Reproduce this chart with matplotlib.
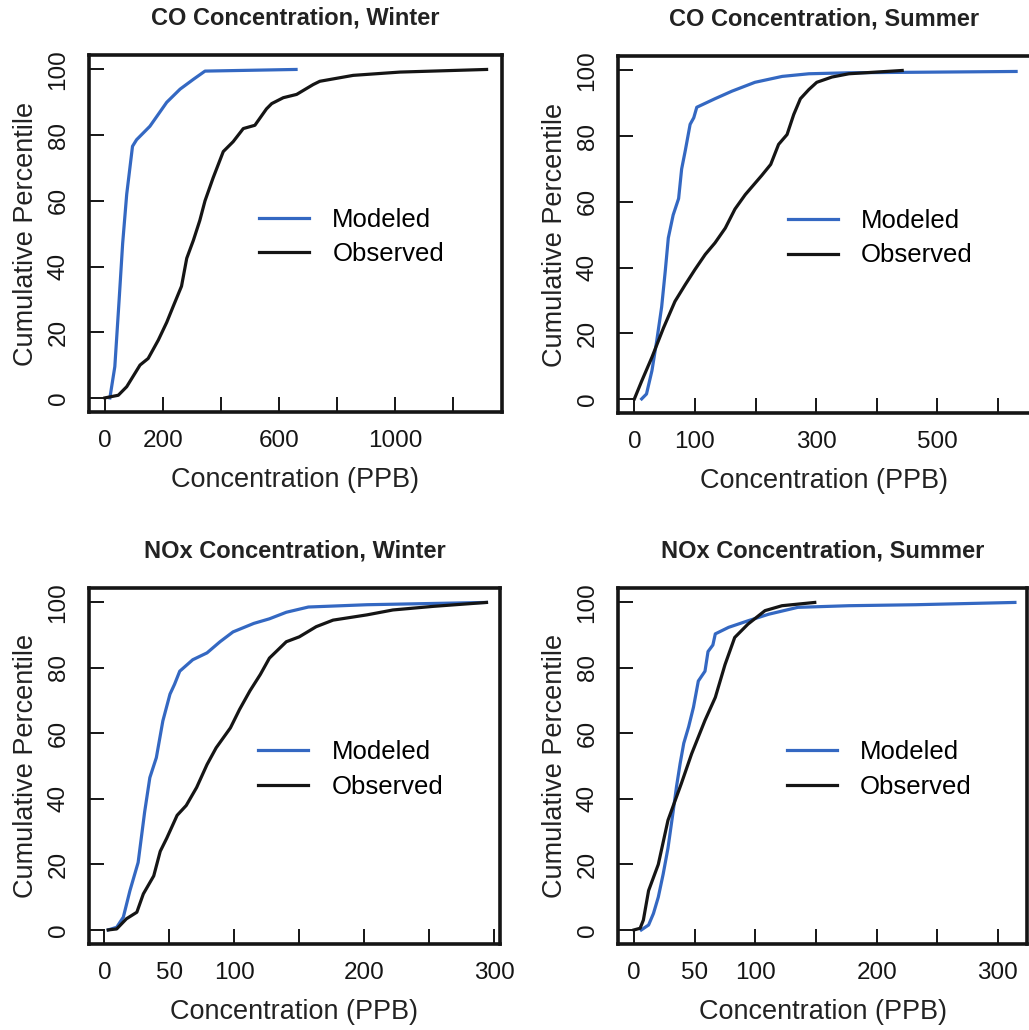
import matplotlib
matplotlib.use("Agg")
import matplotlib.pyplot as plt

plt.rcParams['font.family'] = ['Liberation Sans', 'DejaVu Sans']

BLUE = "#3468c2"
BLACK = "#151515"

# CO winter
co_w_mod_x = [17, 34, 49, 61, 75, 95, 109, 155, 213, 259, 305, 345, 659]
co_w_mod_y = [0, 9.5, 30, 47, 62, 76.6, 78.6, 82.7, 90, 94, 97, 99.5, 100]
co_w_obs_x = [0, 46, 75, 121, 149, 184, 213, 236, 264, 282, 305, 327, 345, 373,
              408, 442, 477, 517, 557, 575, 615, 661, 718, 741, 856, 1017, 1316]
co_w_obs_y = [0, 0.8, 3.4, 10, 12, 17.6, 23, 28, 34, 42.5, 48, 54, 60, 67,
              75, 78, 82, 83, 88, 89.6, 91.4, 92.4, 95.4, 96.4, 98.2, 99.2, 100]

# CO summer
co_s_mod_x = [12, 20, 29, 37, 45, 51, 56, 64, 73, 78, 84, 92, 98, 103, 133, 161,
              199, 244, 288, 354, 630]
co_s_mod_y = [0, 1.5, 8.6, 17.8, 28, 39, 49, 56, 61, 70, 75.6, 83.6, 85.6, 88.8,
              91.4, 93.7, 96.4, 98.2, 99, 99.3, 99.7]
co_s_obs_x = [0, 12, 29, 48, 67, 84, 100, 117, 133, 150, 166, 183, 210, 225, 238,
              252, 263, 274, 288, 301, 326, 354, 442]
co_s_obs_y = [0, 5.4, 12.7, 21.6, 29.7, 34.8, 39.4, 44, 47.5, 52, 57.8, 62.2, 68,
              71.4, 77.5, 80.5, 86.6, 91.4, 94.2, 96.4, 98, 99, 100]

# NOx winter
nox_w_mod_x = [3, 9.5, 14.6, 19.7, 26, 31, 35, 40, 45, 50.5, 54, 58, 68, 79, 89,
               99, 115, 127, 140, 157, 202, 294]
nox_w_mod_y = [0, 0.8, 3.9, 12, 20.6, 36, 46.5, 52.6, 63.8, 72, 75, 79, 82.5,
               84.6, 88, 91, 93.6, 95, 97, 98.6, 99.3, 100]
nox_w_obs_x = [3, 9.5, 17, 25, 30, 38, 43, 48, 56, 63, 71, 79, 86, 97, 104, 112,
               120, 127, 140, 150, 163, 176, 202, 222, 253, 294]
nox_w_obs_y = [0, 0.3, 3.4, 5.4, 11, 16.5, 24, 28, 35, 38, 43.5, 50.5, 55.6,
               61.7, 67.3, 73, 78, 83, 88, 89.5, 92.6, 94.6, 96.2, 97.7, 98.8, 100]

# NOx summer
nox_s_mod_x = [6, 12, 16, 20, 24, 28, 32, 35, 38, 41, 45, 49, 53, 58.5, 61, 65,
               67, 78, 94, 111, 135, 177, 232, 314]
nox_s_mod_y = [0, 1.5, 5, 10, 17, 25, 35.5, 43.7, 50.8, 57, 62, 68, 76, 79, 85,
               87, 90.4, 92.4, 94.4, 96.4, 98.5, 99, 99.3, 100]
nox_s_obs_x = [0, 5, 7.7, 12, 20, 28, 39, 47.5, 58.5, 67, 75, 83, 94, 108, 122, 149]
nox_s_obs_y = [0, 0.5, 3, 12, 20, 33.5, 44.7, 53.8, 64, 71, 81, 89.3, 93.4,
               97.5, 99, 100]

titles = ["CO Concentration, Winter", "CO Concentration, Summer",
          "NOx Concentration, Winter", "NOx Concentration, Summer"]

co_w_ticks = [0, 200, 400, 600, 800, 1000, 1200]
co_w_labels = ["0", "200", "", "600", "", "1000", ""]
co_s_ticks = [0, 100, 200, 300, 400, 500, 600]
co_s_labels = ["0", "100", "", "300", "", "500", ""]
nox_ticks = [0, 50, 100, 150, 200, 250, 300]
nox_labels = ["0", "50", "100", "", "200", "", "300"]
y_ticks = [0, 20, 40, 60, 80, 100]

fig = plt.figure(figsize=(10.29, 10.30), dpi=100)

panels = [
    ([0.0865, 0.600, 0.4013, 0.3466], (-55, 1369), co_w_ticks, co_w_labels,
     co_w_mod_x, co_w_mod_y, co_w_obs_x, co_w_obs_y),
    ([0.6006, 0.599, 0.4010, 0.3466], (-27, 654), co_s_ticks, co_s_labels,
     co_s_mod_x, co_s_mod_y, co_s_obs_x, co_s_obs_y),
    ([0.0865, 0.0835, 0.3994, 0.3456], (-11.8, 304.4), nox_ticks, nox_labels,
     nox_w_mod_x, nox_w_mod_y, nox_w_obs_x, nox_w_obs_y),
    ([0.6006, 0.0835, 0.3975, 0.3456], (-13.2, 324), nox_ticks, nox_labels,
     nox_s_mod_x, nox_s_mod_y, nox_s_obs_x, nox_s_obs_y),
]

for i, (pos, xlim, xt, xl, mx, my, ox, oy) in enumerate(panels):
    ax = fig.add_axes(pos)
    ax.plot(mx, my, color=BLUE, lw=2.3, label="Modeled", solid_joinstyle="round")
    ax.plot(ox, oy, color=BLACK, lw=2.3, label="Observed", solid_joinstyle="round")
    ax.set_xlim(*xlim)
    ax.set_ylim(-4.3, 104.4)
    ax.set_xticks(xt)
    ax.set_xticklabels(xl)
    ax.set_yticks(y_ticks)
    ax.set_yticklabels([str(v) for v in y_ticks], rotation=90, va="center")
    ax.tick_params(direction="in", length=11, width=1.4, labelsize=17.5,
                   colors=BLACK)
    ax.tick_params(axis="x", pad=13)
    ax.tick_params(axis="y", pad=14)
    for s in ax.spines.values():
        s.set_linewidth(2.6)
        s.set_color(BLACK)
    ax.set_xlabel("Concentration (PPB)", fontsize=19.5, labelpad=11, color="#222222")
    ax.set_ylabel("Cumulative Percentile", fontsize=19.5, labelpad=6, color="#222222")
    ax.set_title(titles[i], fontsize=17, fontweight="bold", pad=22, color="#222222")
    ax.legend(loc="center left", bbox_to_anchor=(0.412, 0.49), frameon=False,
              fontsize=18.5, handlelength=1.95, handletextpad=0.9,
              labelspacing=0.42, borderpad=0, borderaxespad=0)

fig.savefig("out.png", dpi=100)
